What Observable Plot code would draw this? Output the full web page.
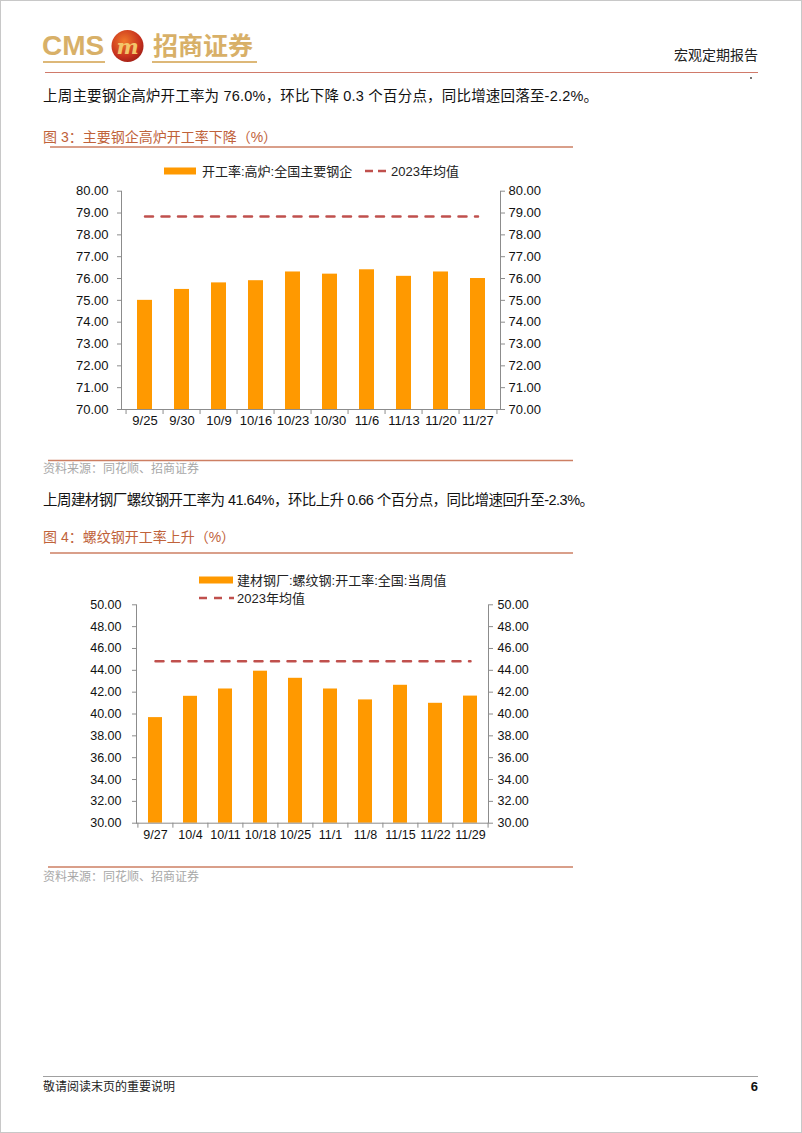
<!DOCTYPE html>
<html>
<head>
<meta charset="utf-8">
<script src="https://cdn.jsdelivr.net/npm/d3@7"></script>
<script src="https://cdn.jsdelivr.net/npm/@observablehq/plot@0.6"></script>
<style>
  html, body { margin: 0; padding: 0; background: #fff; }
  #page { position: relative; width: 802px; height: 1133px; overflow: hidden; background: #fff; }
  #bg { position: absolute; left: 0; top: 0; }
  .chart { position: absolute; }
  text { font-family: "Liberation Sans", "Noto Sans CJK SC", sans-serif; }
</style>
</head>
<body>
<div id="page">
<svg id="bg" width="802" height="1133" xmlns="http://www.w3.org/2000/svg">
  <defs>
    <radialGradient id="logoGrad" cx="40%" cy="35%" r="70%">
      <stop offset="0%" stop-color="#F0782A"/>
      <stop offset="70%" stop-color="#C8321E"/>
      <stop offset="100%" stop-color="#9E1E16"/>
    </radialGradient>
  </defs>
  <rect x="0.5" y="0.5" width="801" height="1132" fill="none" stroke="#c8c8c8"/>
  <!-- header -->
  <text x="42" y="55" font-size="28" font-weight="bold" fill="#D8B068" style="font-family:'Liberation Sans',sans-serif">CMS</text>
  <circle cx="127.5" cy="46" r="16" fill="url(#logoGrad)"/>
  <text x="127.5" y="54" font-size="21" font-weight="bold" font-style="italic" fill="#F3C66A" text-anchor="middle" style="font-family:'DejaVu Serif',serif">m</text>
  <text x="153" y="55" font-size="25" font-weight="bold" fill="#D8B068" style="font-family:'Noto Sans CJK SC',sans-serif">招商证券</text>
  <rect x="43" y="61" width="62" height="2" fill="#DDB878"/>
  <rect x="152" y="61" width="105" height="2" fill="#DDB878"/>
  <text x="758" y="60" font-size="14" fill="#222" text-anchor="end" style="font-family:'Noto Sans CJK SC',sans-serif">宏观定期报告</text>
  <line x1="45" y1="72.5" x2="758" y2="72.5" stroke="#D07A6A" stroke-width="1"/>
  <circle cx="751" cy="78" r="0.9" fill="#333"/>

  <!-- text block 1 -->
  <text x="43" y="100.5" font-size="14.5" fill="#111" textLength="555" lengthAdjust="spacing">上周主要钢企高炉开工率为 76.0%，环比下降 0.3 个百分点，同比增速回落至-2.2%。</text>
  <text x="43" y="142" font-size="14" fill="#C0623A">图 3：主要钢企高炉开工率下降（%）</text>
  <line x1="50" y1="147" x2="573" y2="147" stroke="#CD7F63" stroke-width="1.5"/>

  <!-- legend 1 -->
  <rect x="164" y="167.5" width="32" height="7" fill="#FF9900"/>
  <text x="202" y="175.5" font-size="13" fill="#222">开工率:高炉:全国主要钢企</text>
  <line x1="365" y1="171" x2="389" y2="171" stroke="#C0504D" stroke-width="2.5" stroke-dasharray="8 5"/>
  <text x="391" y="175.5" font-size="13" fill="#222">2023年均值</text>

  <line x1="48" y1="460.5" x2="573" y2="460.5" stroke="#CD7F63" stroke-width="1.5"/>
  <text x="43" y="473" font-size="12" fill="#A8A8A8">资料来源：同花顺、招商证券</text>

  <!-- text block 2 -->
  <text x="43" y="505" font-size="14.5" fill="#111" textLength="551" lengthAdjust="spacing">上周建材钢厂螺纹钢开工率为 41.64%，环比上升 0.66 个百分点，同比增速回升至-2.3%。</text>
  <text x="43" y="542" font-size="14" fill="#C0623A">图 4：螺纹钢开工率上升（%）</text>
  <line x1="50" y1="553" x2="573" y2="553" stroke="#CD7F63" stroke-width="1.5"/>

  <!-- legend 2 -->
  <rect x="199" y="576.5" width="34" height="7" fill="#FF9900"/>
  <text x="237" y="585" font-size="13" fill="#222">建材钢厂:螺纹钢:开工率:全国:当周值</text>
  <line x1="199" y1="598" x2="234" y2="598" stroke="#C0504D" stroke-width="2.5" stroke-dasharray="8 7"/>
  <text x="237" y="603" font-size="13" fill="#222">2023年均值</text>

  <line x1="48" y1="867" x2="573" y2="867" stroke="#CD7F63" stroke-width="1.5"/>
  <text x="43" y="881" font-size="12" fill="#A8A8A8">资料来源：同花顺、招商证券</text>

  <!-- footer -->
  <line x1="43" y1="1076.5" x2="758" y2="1076.5" stroke="#A0A0A0" stroke-width="1"/>
  <text x="43" y="1091" font-size="12" fill="#222">敬请阅读末页的重要说明</text>
  <text x="758" y="1091" font-size="13" font-weight="bold" fill="#111" text-anchor="end">6</text>
</svg>
<div id="chart1" class="chart" style="left:40px; top:180px; width:540px; height:260px;"></div>
<div id="chart2" class="chart" style="left:40px; top:590px; width:540px; height:260px;"></div>
</div>
<script>
// ---- Chart 1 data: 开工率:高炉:全国主要钢企 ----
const dates1 = ["9/25","9/30","10/9","10/16","10/23","10/30","11/6","11/13","11/20","11/27"];
const rate1 = [75.0, 75.5, 75.8, 75.9, 76.3, 76.2, 76.4, 76.1, 76.3, 76.0];
const avg1 = [78.84, 78.84, 78.84, 78.84, 78.84, 78.84, 78.84, 78.84, 78.84, 78.84];
const yDomain1 = [70, 80];
const yTicks1 = [70, 71, 72, 73, 74, 75, 76, 77, 78, 79, 80];

// ---- Chart 2 data: 建材钢厂:螺纹钢:开工率:全国:当周值 ----
const dates2 = ["9/27","10/4","10/11","10/18","10/25","11/1","11/8","11/15","11/22","11/29"];
const rate2 = [39.67, 41.62, 42.29, 43.92, 43.27, 42.29, 41.29, 42.63, 40.98, 41.64];
const avg2 = [44.83, 44.83, 44.83, 44.83, 44.83, 44.83, 44.83, 44.83, 44.83, 44.83];
const yDomain2 = [30, 50];
const yTicks2 = [30, 32, 34, 36, 38, 40, 42, 44, 46, 48, 50];

const BAR = "#FF9900";
const AVG = "#C0504D";
const AXIS = "#8C8C8C";

function makeChart(o) {
  const data = o.dates.map((d, i) => ({date: d, value: o.values[i], avg: o.avg[i]}));
  const step = (o.width - o.ml - o.mr) / o.dates.length;
  const fmt = d3.format(".2f");
  return Plot.plot({
    width: o.width, height: o.height,
    marginLeft: o.ml, marginRight: o.mr, marginTop: o.mt, marginBottom: o.mb,
    style: {fontFamily: "'Liberation Sans', Arial, sans-serif", fontSize: o.fontSize + "px", color: "#111", background: "transparent", overflow: "visible"},
    x: {type: "band", domain: o.dates, paddingInner: 0.6, paddingOuter: 0.3, label: null},
    y: {domain: o.yDomain, label: null},
    marks: [
      Plot.barY(data, {x: "date", y1: o.yDomain[0], y2: "value", fill: BAR}),
      Plot.lineY(data, {x: "date", y: "avg", stroke: AVG, strokeWidth: 2.5, strokeDasharray: "8 8.5"}),
      Plot.ruleY([o.yDomain[0]], {stroke: AXIS}),
      Plot.frame({anchor: "left", stroke: AXIS}),
      Plot.frame({anchor: "right", stroke: AXIS}),
      Plot.axisY({anchor: "left", ticks: o.ticks, tickFormat: fmt, tickSize: 4, tickPadding: o.padL, stroke: AXIS, fill: "#111", label: null}),
      Plot.axisY({anchor: "right", ticks: o.ticks, tickFormat: fmt, tickSize: 4, tickPadding: o.padR, stroke: AXIS, fill: "#111", label: null}),
      Plot.axisX({ticks: o.dates, tickSize: 5, dx: -step / 2, tickFormat: () => "", stroke: AXIS, label: null}),
      Plot.axisX({ticks: [o.dates[o.dates.length - 1]], tickSize: 5, dx: step / 2, tickFormat: () => "", stroke: AXIS, label: null}),
      Plot.axisX({tickSize: 0, tickPadding: o.padX, fill: "#111", label: null})
    ]
  });
}

document.getElementById("chart1").appendChild(makeChart({
  dates: dates1, values: rate1, avg: avg1, yDomain: yDomain1, ticks: yTicks1,
  width: 540, height: 260, ml: 81, mr: 80, mt: 10.7, mb: 31,
  fontSize: 13, padL: 9, padR: 4, padX: 6
}));
document.getElementById("chart2").appendChild(makeChart({
  dates: dates2, values: rate2, avg: avg2, yDomain: yDomain2, ticks: yTicks2,
  width: 540, height: 260, ml: 96, mr: 92, mt: 14.3, mb: 27.3,
  fontSize: 12.5, padL: 11, padR: 5, padX: 7
}));
</script>
</body>
</html>
